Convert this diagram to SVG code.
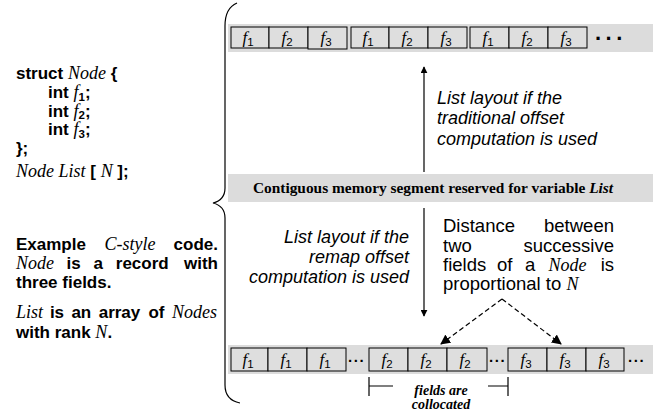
<svg xmlns="http://www.w3.org/2000/svg" width="670" height="416" viewBox="0 0 670 416">
<style>
.sb{font-family:"Liberation Sans",Arial,sans-serif;font-weight:bold;font-size:17px;fill:#000}
.ti{font-family:"Liberation Serif","Times New Roman",serif;font-style:italic;font-weight:normal;font-size:18px}
.sr{font-family:"Liberation Sans",Arial,sans-serif;font-size:18.5px;fill:#000}
.si{font-family:"Liberation Sans",Arial,sans-serif;font-style:italic;font-size:18px;fill:#000}
.sub{font-family:"Liberation Sans",Arial,sans-serif;font-style:normal;font-size:11.5px}
.band{fill:#dcdcdc}
.box{fill:#dedede;stroke:#000;stroke-width:1}
.lbl{font-family:"Liberation Serif","Times New Roman",serif;font-style:italic;font-size:17px;fill:#000}
.ln{stroke:#000;stroke-width:1.2;fill:none}
</style>
<defs>
<marker id="ah" viewBox="0 0 10 10" refX="9" refY="5" markerWidth="7" markerHeight="7" orient="auto" markerUnits="userSpaceOnUse"><path d="M0,0 L10,5 L0,10 z" fill="#000"/></marker>
<marker id="ahd" viewBox="0 0 10 10" refX="9" refY="5" markerWidth="10" markerHeight="10" orient="auto" markerUnits="userSpaceOnUse"><path d="M0,0 L10,5 L0,10 z" fill="#000"/></marker>
</defs>

<g id="code">
<text class="sb" x="16" y="79">struct <tspan class="ti">Node</tspan> {</text>
<text class="sb" x="48" y="98">int <tspan class="ti">f</tspan><tspan class="sub" font-weight="bold" dy="2.5">1</tspan><tspan dy="-2.5">;</tspan></text>
<text class="sb" x="48" y="116.5">int <tspan class="ti">f</tspan><tspan class="sub" font-weight="bold" dy="2.5">2</tspan><tspan dy="-2.5">;</tspan></text>
<text class="sb" x="48" y="135">int <tspan class="ti">f</tspan><tspan class="sub" font-weight="bold" dy="2.5">3</tspan><tspan dy="-2.5">;</tspan></text>
<text class="sb" x="16" y="154">};</text>
<text class="sb" x="16" y="177"><tspan class="ti">Node List</tspan> [ <tspan class="ti">N</tspan> ];</text>
</g>

<g id="caption">
<text class="sb" y="250"><tspan x="16">Example</tspan><tspan class="ti" x="104.6">C-style</tspan></text>
<text class="sb" x="218" y="250" text-anchor="end">code.</text>
<text class="sb" y="269"><tspan class="ti" x="16">Node</tspan><tspan x="66.5">is</tspan><tspan x="93.6">a</tspan><tspan x="115.8">record</tspan></text>
<text class="sb" x="218" y="269" text-anchor="end">with</text>
<text class="sb" x="16" y="288">three fields.</text>
<text class="sb" y="318"><tspan class="ti" x="16">List</tspan><tspan x="49.9">is</tspan><tspan x="71.4">an</tspan><tspan x="98.7">array</tspan><tspan x="148.4">of</tspan></text>
<text class="sb" x="217" y="318" text-anchor="end"><tspan class="ti">Nodes</tspan></text>
<text class="sb" x="16" y="338">with rank <tspan class="ti">N</tspan>.</text>
</g>

<g id="brace">
<path class="ln" stroke-width="1" d="M237,3 Q225,8 225,26 L225,188 Q225,200 213,203 Q225,206 225,218 L225,385 Q225,400 240,403"/>
</g>

<g id="traditional-layout">
<rect class="band" x="228" y="24" width="425" height="28"/>
<rect class="box" x="231" y="27" width="38" height="21"/>
<rect class="box" x="269" y="27" width="39" height="21"/>
<rect class="box" x="308" y="27" width="39" height="22"/>
<rect class="box" x="351" y="27" width="38" height="21"/>
<rect class="box" x="389" y="27" width="39" height="21"/>
<rect class="box" x="428" y="27" width="39" height="21"/>
<rect class="box" x="470" y="27" width="39" height="21"/>
<rect class="box" x="509" y="27" width="39" height="21"/>
<rect class="box" x="548" y="27" width="39" height="21"/>
<g class="lbl" text-anchor="middle">
<text x="248" y="43">f<tspan class="sub" dy="3">1</tspan></text>
<text x="287" y="43">f<tspan class="sub" dy="3">2</tspan></text>
<text x="326" y="43">f<tspan class="sub" dy="3">3</tspan></text>
<text x="368" y="43">f<tspan class="sub" dy="3">1</tspan></text>
<text x="407" y="43">f<tspan class="sub" dy="3">2</tspan></text>
<text x="446" y="43">f<tspan class="sub" dy="3">3</tspan></text>
<text x="488" y="43">f<tspan class="sub" dy="3">1</tspan></text>
<text x="527" y="43">f<tspan class="sub" dy="3">2</tspan></text>
<text x="566" y="43">f<tspan class="sub" dy="3">3</tspan></text>
</g>
<text x="595" y="40" font-family="Liberation Sans,Arial,sans-serif" font-weight="bold" font-size="22" letter-spacing="4.5">...</text>
</g>

<g id="segment">
<rect class="band" x="228" y="174" width="425" height="28"/>
<text x="433" y="193" text-anchor="middle" font-family="Liberation Serif,Times New Roman,serif" font-weight="bold" font-size="15.4">Contiguous memory segment reserved for variable <tspan font-style="italic">List</tspan></text>
</g>

<g id="remap-layout">
<rect class="band" x="228" y="345" width="425" height="29"/>
<rect class="box" x="231" y="348" width="37" height="23"/>
<rect class="box" x="268" y="348" width="39" height="23"/>
<rect class="box" x="307" y="348" width="39" height="23"/>
<rect class="box" x="369" y="348" width="39" height="23"/>
<rect class="box" x="408" y="348" width="39" height="23"/>
<rect class="box" x="447" y="348" width="40" height="23"/>
<rect class="box" x="508" y="348" width="39" height="23"/>
<rect class="box" x="547" y="348" width="39" height="23"/>
<rect class="box" x="586" y="348" width="38" height="23"/>
<g class="lbl" text-anchor="middle">
<text x="248" y="365">f<tspan class="sub" dy="3">1</tspan></text>
<text x="286" y="365">f<tspan class="sub" dy="3">1</tspan></text>
<text x="325" y="365">f<tspan class="sub" dy="3">1</tspan></text>
<text x="387" y="365">f<tspan class="sub" dy="3">2</tspan></text>
<text x="426" y="365">f<tspan class="sub" dy="3">2</tspan></text>
<text x="465" y="365">f<tspan class="sub" dy="3">2</tspan></text>
<text x="526" y="365">f<tspan class="sub" dy="3">3</tspan></text>
<text x="565" y="365">f<tspan class="sub" dy="3">3</tspan></text>
<text x="604" y="365">f<tspan class="sub" dy="3">3</tspan></text>
</g>
<g font-family="Liberation Sans,Arial,sans-serif" font-weight="bold" font-size="15" letter-spacing="1.6">
<text x="348" y="362">...</text>
<text x="489" y="362">...</text>
<text x="628" y="362">...</text>
</g>
</g>

<g id="label-traditional">
<text class="si" x="437" y="104">List layout if the</text>
<text class="si" x="437" y="124">traditional offset</text>
<text class="si" x="437" y="145">computation is used</text>
</g>

<g id="label-remap" text-anchor="end">
<text class="si" x="409" y="243">List layout if the</text>
<text class="si" x="409" y="263">remap offset</text>
<text class="si" x="409" y="283">computation is used</text>
</g>

<g id="label-distance">
<text class="sr" x="443" y="232">Distance</text>
<text class="sr" x="614" y="232" text-anchor="end">between</text>
<text class="sr" x="443" y="252">two</text>
<text class="sr" x="614" y="252" text-anchor="end">successive</text>
<text class="sr" y="271"><tspan x="443">fields</tspan><tspan x="497">of</tspan><tspan x="525">a</tspan><tspan class="ti" x="548.5">Node</tspan></text>
<text class="sr" x="614" y="271" text-anchor="end">is</text>
<text class="sr" x="443" y="290">proportional to <tspan class="ti">N</tspan></text>
</g>

<g id="label-collocated" font-family="Liberation Serif,Times New Roman,serif" font-weight="bold" font-style="italic" font-size="14" text-anchor="middle">
<text x="441" y="395">fields are</text>
<text x="441" y="409">collocated</text>
</g>

<g id="connectors">
<line class="ln" x1="424" y1="172" x2="424" y2="67" marker-end="url(#ah)"/>
<line class="ln" x1="424" y1="208" x2="424" y2="316" marker-end="url(#ah)"/>
<line class="ln" x1="502" y1="299" x2="441" y2="344" stroke-dasharray="5,3" marker-end="url(#ahd)"/>
<line class="ln" x1="502" y1="299" x2="561" y2="344" stroke-dasharray="5,3" marker-end="url(#ahd)"/>
<path class="ln" stroke-width="1" d="M369,377 L369,396 M369,386 L393,386"/>
<path class="ln" stroke-width="1" d="M508,377 L508,396 M508,386 L488,386"/>
</g>
</svg>
